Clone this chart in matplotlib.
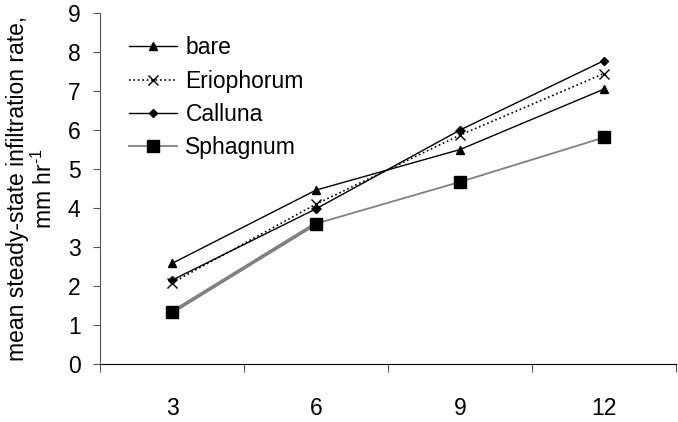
import numpy as np
import matplotlib.pyplot as plt

plt.rcParams['font.family'] = ['Liberation Sans', 'DejaVu Sans']
plt.rcParams['mathtext.fontset'] = 'custom'
plt.rcParams['mathtext.rm'] = 'Liberation Sans'

# rainfall intensity categories and infiltration rates (mm/hr)
categories = ['3', '6', '9', '12']
bare = [2.58, 4.46, 5.50, 7.05]
eriophorum = [2.08, 4.10, 5.87, 7.45]
calluna = [2.15, 3.98, 6.00, 7.78]
sphagnum = [1.33, 3.60, 4.67, 5.81]

x = np.arange(len(categories)) + 0.5

fig = plt.figure(figsize=(6.78, 4.22), dpi=100)
ax = fig.add_axes([0.1475, 0.1374, 0.997 - 0.1475, 0.969 - 0.1374])

ax.plot(x, bare, color='black', lw=1.0, marker='^', ms=6, label='bare')
ax.plot(x, eriophorum, color='black', lw=1.2, ls=':', marker='x', ms=6.5,
        mew=1.0, label='Eriophorum')
ax.plot(x, calluna, color='black', lw=1.0, marker='D', ms=4.5, label='Calluna')
ax.plot(x, sphagnum, color='#808080', lw=1.3, marker='s', ms=9,
        mfc='black', mec='black', label='Sphagnum')
# first segment of the Sphagnum line is drawn heavier in the original
ax.plot(x[:2], sphagnum[:2], color='#808080', lw=2.6, zorder=1.9)

ax.set_xlim(0, 4)
ax.set_ylim(0, 9)
ax.set_yticks(range(0, 10))
ax.set_xticks(range(0, 5))
ax.set_xticklabels([])
ax.set_xticks(x, minor=True)
ax.set_xticklabels(categories, minor=True)
ax.tick_params(axis='x', which='minor', length=0, pad=24, labelsize=16.5)
ax.tick_params(axis='x', which='major', length=6, width=0.8, color='#555555')
ax.tick_params(axis='y', length=5, width=0.8, labelsize=16.5, pad=9, color='#555555')

for s in ['top', 'right']:
    ax.spines[s].set_visible(False)
ax.spines['left'].set_color('#555555')
ax.spines['bottom'].set_color('black')

ax.set_ylabel('mean steady-state infiltration rate,\nmm hr$^{\\text{-1}}$', fontsize=16.5,
              linespacing=1.1, labelpad=8)

ax.legend(loc='upper left', bbox_to_anchor=(0.035, 0.96), frameon=False,
          fontsize=16.5, handlelength=2.1, handletextpad=0.35,
          labelspacing=0.45, borderaxespad=0)

fig.savefig('out.png', dpi=100)
